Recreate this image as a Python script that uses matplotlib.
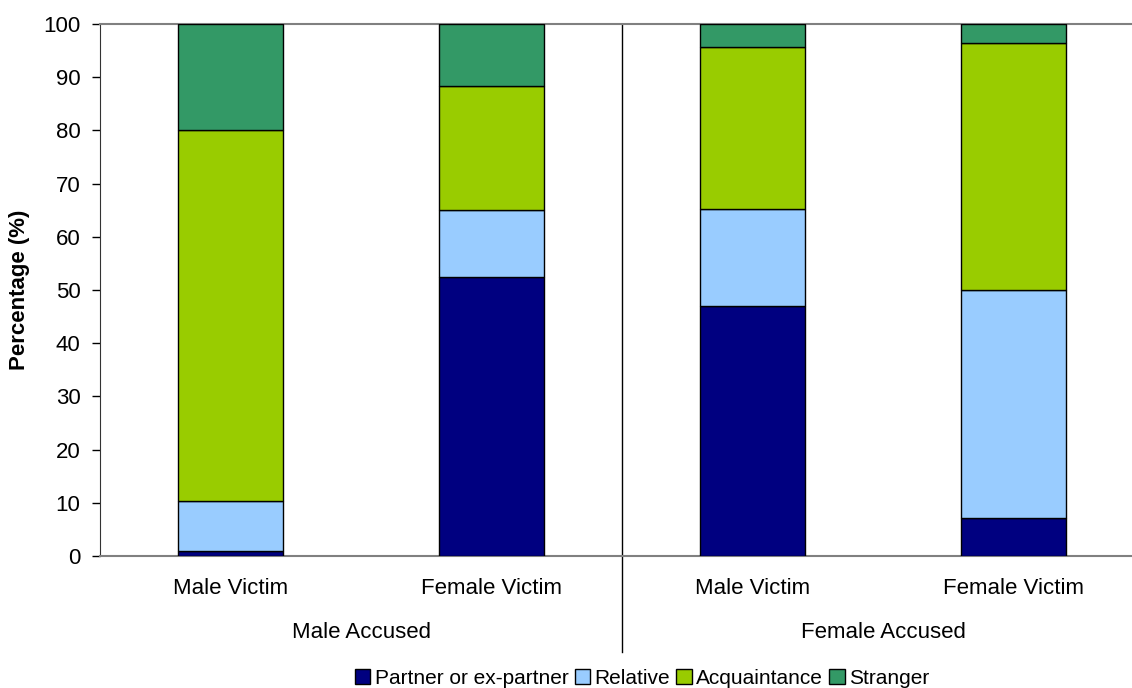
import numpy as np
import matplotlib
matplotlib.use("Agg")
import matplotlib.pyplot as plt
import matplotlib.transforms as mtransforms

plt.rcParams["font.family"] = ["Liberation Sans", "DejaVu Sans"]

victims = ["Male Victim", "Female Victim", "Male Victim", "Female Victim"]
groups = ["Male Accused", "Female Accused"]
series = ["Partner or ex-partner", "Relative", "Acquaintance", "Stranger"]
partner = [0.9, 52.4, 46.9, 7.2]
relative = [9.4, 12.7, 18.3, 42.8]
acquaintance = [69.7, 23.2, 30.4, 46.4]
stranger = [20.0, 11.7, 4.4, 3.6]
colors = ["#000080", "#99CCFF", "#99CC00", "#339966"]

FS = 16

fig = plt.figure(figsize=(11.32, 6.88), dpi=100)
ax = fig.add_axes([100 / 1132, 132 / 688, 1044 / 1132, 532 / 688])

x = np.arange(len(victims))
bottom = np.zeros(len(victims))
for name, vals, c in zip(series, [partner, relative, acquaintance, stranger], colors):
    ax.bar(x, vals, 0.4, bottom=bottom, color=c, edgecolor="black",
           linewidth=1.0, label=name, zorder=3)
    bottom += np.array(vals)

ax.set_xlim(-0.5, len(victims) - 0.5)
ax.set_ylim(0, 100)
ax.set_yticks(np.arange(0, 101, 10))
ax.tick_params(axis="y", labelsize=FS, length=6, width=1, pad=8, direction="out")
ax.set_xticks([])
fig.text(20 / 1132, 1 - 290 / 688, "Percentage (%)", rotation=90, ha="center",
         va="center", fontsize=FS, fontweight="bold")

for s in ["top", "bottom"]:
    ax.spines[s].set_color("#808080")
    ax.spines[s].set_linewidth(1.5)
ax.spines["right"].set_visible(False)
ax.spines["left"].set_color("#333333")

trans = mtransforms.blended_transform_factory(ax.transData, ax.transAxes)
for xi, lab in zip(x, victims):
    ax.text(xi, -0.062, lab, transform=trans, ha="center", va="center", fontsize=FS)
for gi, g in enumerate(groups):
    ax.text(0.5 + 2 * gi, -0.143, g, transform=trans, ha="center", va="center", fontsize=FS)
ax.plot([1.5, 1.5], [1.0, -0.18], transform=trans, color="black",
        linewidth=1.0, clip_on=False)

fig.legend(loc="center", bbox_to_anchor=(642 / 1132, 1 - 678 / 688), ncol=4,
           frameon=False, fontsize=15, handlelength=0.75, handleheight=0.75,
           handletextpad=0.2, columnspacing=0.3, borderpad=0)

fig.savefig("out.png", dpi=100)
